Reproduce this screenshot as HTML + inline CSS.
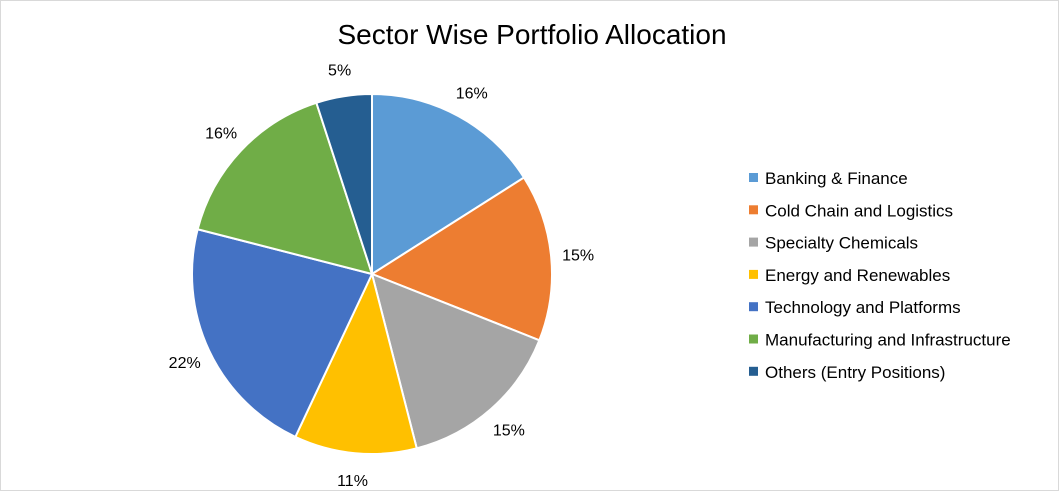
<!DOCTYPE html>
<html><head><meta charset="utf-8"><style>
body{margin:0;background:#fff}
#c{position:relative;width:1059px;height:491px;box-sizing:border-box;border:1px solid #d9d9d9;font-family:"Liberation Sans",sans-serif;overflow:hidden}
</style></head><body>
<div id="c">
<svg id="s" width="1059" height="491">
<text x="531" y="43" font-size="28" text-anchor="middle" fill="#000">Sector Wise Portfolio Allocation</text>
</svg>
</div>
<script>
const categories=["Banking & Finance","Cold Chain and Logistics","Specialty Chemicals","Energy and Renewables","Technology and Platforms","Manufacturing and Infrastructure","Others (Entry Positions)"];
const values=[16,15,15,11,22,16,5];
const colors=["#5B9BD5","#ED7D31","#A5A5A5","#FFC000","#4472C4","#70AD47","#255E91"];
const svg=document.getElementById('s');const NS="http://www.w3.org/2000/svg";
const cx=371,cy=273,r=180,lr=207;
const total=values.reduce((a,b)=>a+b,0);
let a0=0;
function pt(a,rad){return [cx+rad*Math.sin(a),cy-rad*Math.cos(a)];}
values.forEach((v,i)=>{
 const a1=a0+v/total*2*Math.PI;
 const p0=pt(a0,r),p1=pt(a1,r);
 const path=document.createElementNS(NS,'path');
 path.setAttribute('d',`M${cx},${cy}L${p0[0]},${p0[1]}A${r},${r} 0 ${a1-a0>Math.PI?1:0} 1 ${p1[0]},${p1[1]}Z`);
 path.setAttribute('fill',colors[i]);path.setAttribute('stroke','#fff');path.setAttribute('stroke-width','2');
 
 
 svg.appendChild(path);
 const m=(a0+a1)/2,lp=pt(m,lr);
 const t=document.createElementNS(NS,'text');
 t.setAttribute('x',lp[0]);t.setAttribute('y',lp[1]+6);t.setAttribute('text-anchor','middle');t.setAttribute('font-size','16');
 t.textContent=Math.round(v/total*100)+'%';
 
 
 svg.appendChild(t);
 const y=177+i*32.3;
 const sq=document.createElementNS(NS,'rect');
 sq.setAttribute('x',748);sq.setAttribute('y',y-5);sq.setAttribute('width',9);sq.setAttribute('height',9);sq.setAttribute('fill',colors[i]);
 
 
 svg.appendChild(sq);
 const lt=document.createElementNS(NS,'text');
 lt.setAttribute('x',764);lt.setAttribute('y',y+6);lt.setAttribute('font-size','17');lt.textContent=categories[i];
 
 
 svg.appendChild(lt);
 a0=a1;
});
</script>
</body></html>
